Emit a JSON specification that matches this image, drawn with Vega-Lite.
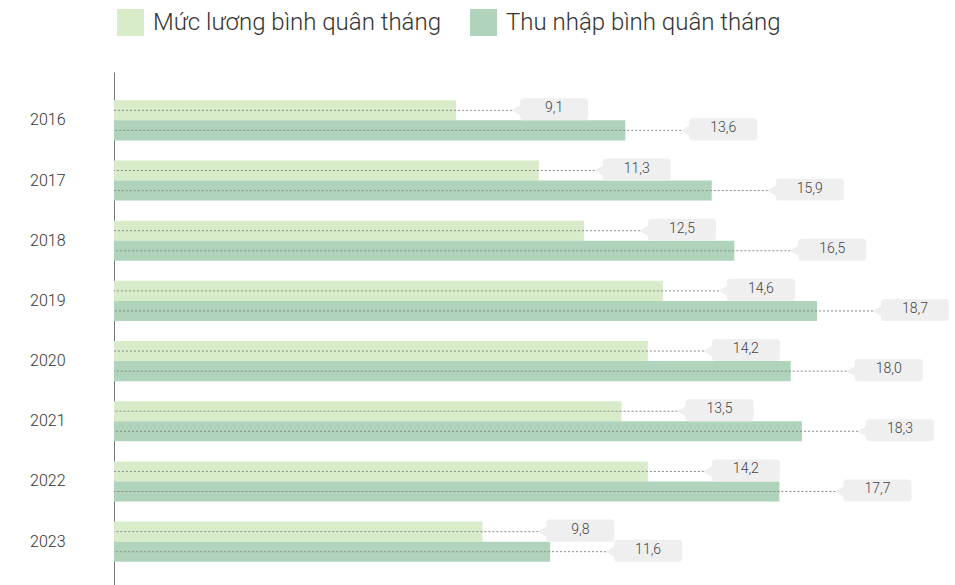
{
  "$schema": "https://vega.github.io/schema/vega-lite/v6.json",
  "width": 841,
  "height": 518,
  "autosize": "none",
  "padding": {"left": 114, "top": 72, "right": 0, "bottom": 0},
  "background": "white",
  "config": {
    "view": {"stroke": null},
    "font": "Roboto",
    "locale": {"number": {"decimal": ",", "thousands": ".", "grouping": [3], "currency": ["", ""]}}
  },
  "data": {
    "values": [
      {"year": "2016", "series": "Mức lương bình quân tháng", "value": 9.1},
      {"year": "2016", "series": "Thu nhập bình quân tháng", "value": 13.6},
      {"year": "2017", "series": "Mức lương bình quân tháng", "value": 11.3},
      {"year": "2017", "series": "Thu nhập bình quân tháng", "value": 15.9},
      {"year": "2018", "series": "Mức lương bình quân tháng", "value": 12.5},
      {"year": "2018", "series": "Thu nhập bình quân tháng", "value": 16.5},
      {"year": "2019", "series": "Mức lương bình quân tháng", "value": 14.6},
      {"year": "2019", "series": "Thu nhập bình quân tháng", "value": 18.7},
      {"year": "2020", "series": "Mức lương bình quân tháng", "value": 14.2},
      {"year": "2020", "series": "Thu nhập bình quân tháng", "value": 18.0},
      {"year": "2021", "series": "Mức lương bình quân tháng", "value": 13.5},
      {"year": "2021", "series": "Thu nhập bình quân tháng", "value": 18.3},
      {"year": "2022", "series": "Mức lương bình quân tháng", "value": 14.2},
      {"year": "2022", "series": "Thu nhập bình quân tháng", "value": 17.7},
      {"year": "2023", "series": "Mức lương bình quân tháng", "value": 9.8},
      {"year": "2023", "series": "Thu nhập bình quân tháng", "value": 11.6}
    ]
  },
  "layer": [
    {
      "mark": {"type": "bar"},
      "encoding": {
        "y": {
          "field": "year", "type": "nominal",
          "scale": {"paddingInner": 0.333, "paddingOuter": 0.47},
          "axis": {"title": null, "ticks": false, "domain": true, "domainColor": "#777", "domainWidth": 1,
                   "labelFontSize": 16, "labelColor": "#333", "labelPadding": 49, "labelFont": "Roboto", "labelFontWeight": 300}
        },
        "yOffset": {"field": "series", "type": "nominal", "sort": ["Mức lương bình quân tháng", "Thu nhập bình quân tháng"], "scale": {"paddingInner": 0, "paddingOuter": 0}},
        "x": {"field": "value", "type": "quantitative", "scale": {"domain": [0, 22.37], "nice": false}, "axis": null},
        "color": {
          "field": "series", "type": "nominal",
          "scale": {"domain": ["Mức lương bình quân tháng", "Thu nhập bình quân tháng"], "range": ["#d9ecca", "#afd3bb"]},
          "legend": {
            "title": null, "orient": "none", "legendX": 3, "legendY": -63, "direction": "horizontal",
            "symbolType": "square", "symbolSize": 729, "symbolStrokeWidth": 0,
            "labelFontSize": 24, "labelColor": "#333", "labelFont": "Roboto", "labelFontWeight": 300,
            "labelOffset": 9, "columnPadding": 29, "labelLimit": 400
          }
        }
      }
    },
    {
      "mark": {"type": "rule", "color": "#8a8a8a", "strokeDash": [2, 2], "strokeWidth": 1, "xOffset": 56},
      "encoding": {
        "y": {"field": "year", "type": "nominal"},
        "yOffset": {"field": "series", "type": "nominal", "sort": ["Mức lương bình quân tháng", "Thu nhập bình quân tháng"]},
        "x": {"field": "value", "type": "quantitative"},
        "x2": {"datum": 0}
      }
    },
    {
      "mark": {"type": "bar", "color": "#efefef", "cornerRadius": 3, "xOffset": 64, "x2Offset": 132, "height": {"band": 1.1}},
      "encoding": {
        "y": {"field": "year", "type": "nominal"},
        "yOffset": {"field": "series", "type": "nominal", "sort": ["Mức lương bình quân tháng", "Thu nhập bình quân tháng"]},
        "x": {"field": "value", "type": "quantitative"},
        "x2": {"field": "value"}
      }
    },
    {
      "mark": {"type": "point", "shape": "triangle-left", "filled": true, "color": "#efefef", "opacity": 1, "size": 110, "xOffset": 60},
      "encoding": {
        "y": {"field": "year", "type": "nominal"},
        "yOffset": {"field": "series", "type": "nominal", "sort": ["Mức lương bình quân tháng", "Thu nhập bình quân tháng"]},
        "x": {"field": "value", "type": "quantitative"}
      }
    },
    {
      "mark": {"type": "text", "align": "center", "baseline": "middle", "fontSize": 14, "color": "#444", "font": "Roboto", "fontWeight": 300, "xOffset": 98, "dy": -2},
      "encoding": {
        "y": {"field": "year", "type": "nominal"},
        "yOffset": {"field": "series", "type": "nominal", "sort": ["Mức lương bình quân tháng", "Thu nhập bình quân tháng"]},
        "x": {"field": "value", "type": "quantitative"},
        "text": {"field": "value", "type": "quantitative", "format": ".1f"}
      }
    }
  ]
}
